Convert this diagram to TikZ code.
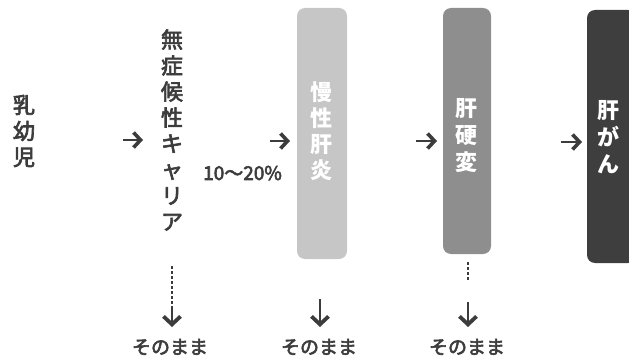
\documentclass[tikz,border=0pt]{standalone}
\usepackage{fontspec}
\newfontfamily\jp{Noto Sans CJK JP}
\newfontfamily\jpm{Noto Sans CJK JP}[FakeBold=3]
\usetikzlibrary{arrows.meta}
\definecolor{ink}{HTML}{3C3C3C}
\definecolor{barA}{HTML}{C6C6C6}
\definecolor{barB}{HTML}{8E8E8E}
\definecolor{barC}{HTML}{3E3E3E}
\tikzset{
  vtext/.style={align=center, inner sep=0pt, text=ink, font=\jpm\fontsize{22}{26}\selectfont},
  bartext/.style={align=center, inner sep=0pt, text=white, font=\jp\bfseries\fontsize{22}{26}\selectfont},
  stagebar/.style={rounded corners=8pt, draw=none},
  rarrow/.style={draw=ink, line width=1.5pt, -{Straight Barb[length=7pt,width=15pt,line width=3.6pt]}},
  darrow/.style={draw=ink, line width=1.5pt, -{Straight Barb[length=8pt,width=17pt,line width=3.8pt]}},
  dashline/.style={draw=ink, line width=1.2pt, dash pattern=on 3pt off 2pt},
  small/.style={inner sep=0pt, text=ink, font=\jpm\fontsize{19}{22}\selectfont},
  pct/.style={inner sep=0pt, text=ink, font=\jpm\fontsize{19}{22}\selectfont}
}
\begin{document}
\begin{tikzpicture}[x=1pt,y=-1pt]
\useasboundingbox (0,0) rectangle (629,361);
% bars
\fill[barA, stagebar] (297,8) rectangle (347,259);
\fill[barB, stagebar] (443,8) rectangle (491,254);
\fill[barC, stagebar] (587,10) rectangle (636,263);
% texts
\node[vtext] (infant) at (24,131) {乳\\幼\\児};
\node[vtext] (carrier) at (172,130) {無\\症\\候\\性\\キ\\ャ\\リ\\ア};
\node[bartext] (chronic) at (321,131) {慢\\性\\肝\\炎};
\node[bartext, font=\jp\bfseries\fontsize{22}{27}\selectfont] (cirr) at (466,136) {肝\\硬\\変};
\node[bartext, font=\jp\bfseries\fontsize{22}{27}\selectfont] (cancer) at (608,137) {肝\\が\\ん};
\node[pct, anchor=west] (pct) at (203,173) {10〜20\%};
% horizontal arrows
\coordinate (a1s) at (123,140); \coordinate (a1e) at (143,140);
\coordinate (a2s) at (270,141); \coordinate (a2e) at (290,141);
\coordinate (a3s) at (416,141); \coordinate (a3e) at (437,141);
\coordinate (a4s) at (561,142); \coordinate (a4e) at (582,142);
\draw[rarrow] (a1s) -- (a1e);
\draw[rarrow] (a2s) -- (a2e);
\draw[rarrow] (a3s) -- (a3e);
\draw[rarrow] (a4s) -- (a4e);
% bottom labels
\node[small] (s1) at (170,347) {そのまま};
\node[small] (s2) at (319,347) {そのまま};
\node[small] (s3) at (467,347) {そのまま};
% down arrows
\coordinate (d1a) at (172,266); \coordinate (d1b) at (172,306);
\draw[dashline] (d1a) -- (d1b);
\draw[darrow] (d1b) -- (172,327);
\coordinate (d2a) at (320,299);
\draw[darrow] (d2a) -- (320,327);
\coordinate (d3a) at (468,262); \coordinate (d3b) at (468,281);
\draw[dashline] (d3a) -- (d3b);
\coordinate (d3c) at (468,302);
\draw[darrow] (d3c) -- (468,327);
\end{tikzpicture}
\end{document}
